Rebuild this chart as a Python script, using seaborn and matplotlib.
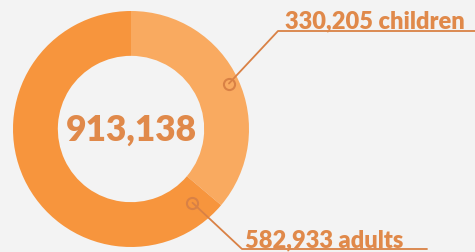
import matplotlib
matplotlib.use("Agg")
import matplotlib.pyplot as plt
import seaborn as sns
import numpy as np

labels = ["children", "adults"]
values = [330205, 582933]
total_label = "913,138"

colors = ["#F9AA60", "#F7953D"]
text_color = "#E0894A"
line_color = "#D98145"

sns.set_theme(style="white")
plt.rcParams["font.family"] = ["Lato", "DejaVu Sans"]

W, H = 475, 253
fig = plt.figure(figsize=(W / 100, H / 100), dpi=100)
fig.patch.set_facecolor("#F3F3F3")
ax = fig.add_axes([0, 0, 1, 1])

cx, cy, R = 131, 253 - 130, 118
wedges, _ = ax.pie(
    values,
    startangle=90,
    counterclock=False,
    colors=colors,
    center=(cx, cy),
    radius=R,
    wedgeprops=dict(width=R * 0.38, edgecolor="none"),
    frame=True,
)
ax.set_xlim(0, W)
ax.set_ylim(0, H)
ax.set_aspect("equal")
ax.axis("off")

ax.text(cx, cy, total_label, ha="center", va="center", fontsize=25.5,
        fontweight="heavy", color=text_color)

# callouts
t1, t2 = wedges[0].theta1, wedges[0].theta2
ang_c = np.deg2rad((t1 + t2) / 2)
ang_a = np.deg2rad(t1 - 10)
pc = (cx + 108 * np.cos(ang_c), cy + 108 * np.sin(ang_c))
pa = (cx + 96 * np.cos(ang_a), cy + 96 * np.sin(ang_a))

ax.plot([pc[0], 278, W], [pc[1], 253 - 32, 253 - 32], color=line_color, lw=1.3)
ax.plot([pa[0], 242, 427], [pa[1], 253 - 250, 253 - 250], color=line_color, lw=1.3)
for p in (pc, pa):
    ax.plot(*p, "o", ms=8, mfc="none", mec=line_color, mew=1.5)

ax.text(285, 253 - 28, f"{values[0]:,} {labels[0]}", ha="left", va="baseline",
        fontsize=17, fontweight="heavy", color=text_color)
ax.text(245, 253 - 247, f"{values[1]:,} {labels[1]}", ha="left", va="baseline",
        fontsize=17, fontweight="heavy", color=text_color)

fig.savefig("out.png", dpi=100, facecolor=fig.get_facecolor())
